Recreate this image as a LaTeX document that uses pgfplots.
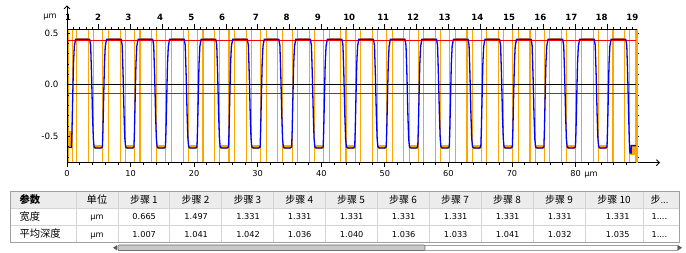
\documentclass[border=0pt]{standalone}
\usepackage{pgfplots}
\usepackage{pgfplotstable}
\pgfplotsset{compat=1.18}
\usepackage{fontspec}
\setmainfont{DejaVu Sans}
\newfontfamily\cjk{Noto Sans CJK SC}
\usetikzlibrary{arrows.meta}
\definecolor{orng}{RGB}{255,165,0}
\definecolor{hdr}{RGB}{236,236,236}
\definecolor{gridc}{RGB}{212,212,212}
\definecolor{bord}{RGB}{160,160,160}
\definecolor{thumb}{RGB}{200,200,200}
\definecolor{thumbd}{RGB}{110,110,110}
\definecolor{arr}{RGB}{90,90,90}

\pgfplotstableread{
x t b
0.2 1 -1
0.87 1 -1
1.52 1 -1
3.39 1 -1
4.20 1 -1
5.64 1 -1
6.52 1 -1
8.35 1 -1
9.16 1 -1
10.60 1 -1
11.48 1 -1
13.31 1 -1
14.12 1 -1
15.56 1 -1
16.44 1 -1
18.27 1 -1
19.08 1 -1
20.52 1 -1
21.40 1 -1
23.23 1 -1
24.04 1 -1
25.48 1 -1
26.36 1 -1
28.19 1 -1
29.01 1 -1
30.45 1 -1
31.33 1 -1
33.16 1 -1
33.97 1 -1
35.41 1 -1
36.29 1 -1
38.12 1 -1
38.93 1 -1
40.37 1 -1
41.25 1 -1
43.08 1 -1
43.89 1 -1
45.33 1 -1
46.21 1 -1
48.04 1 -1
48.85 1 -1
50.29 1 -1
51.17 1 -1
53.00 1 -1
53.81 1 -1
55.25 1 -1
56.13 1 -1
57.96 1 -1
58.77 1 -1
60.21 1 -1
61.09 1 -1
62.92 1 -1
63.73 1 -1
65.17 1 -1
66.05 1 -1
67.88 1 -1
68.69 1 -1
70.13 1 -1
71.01 1 -1
72.84 1 -1
73.65 1 -1
75.09 1 -1
75.97 1 -1
77.80 1 -1
78.62 1 -1
80.06 1 -1
80.94 1 -1
82.77 1 -1
83.58 1 -1
85.02 1 -1
85.90 1 -1
87.73 1 -1
88.54 1 -1
}\vlines

\pgfplotstableread{
x y
1.46 0.44
3.49 0.44
3.5 nan
6.42 0.44
8.45 0.44
8.5 nan
11.38 0.44
13.41 0.44
13.5 nan
16.34 0.44
18.37 0.44
18.5 nan
21.30 0.44
23.33 0.44
23.5 nan
26.26 0.44
28.29 0.44
28.5 nan
31.23 0.44
33.26 0.44
33.5 nan
36.19 0.44
38.22 0.44
38.5 nan
41.15 0.44
43.18 0.44
43.5 nan
46.11 0.44
48.14 0.44
48.5 nan
51.07 0.44
53.10 0.44
53.5 nan
56.03 0.44
58.06 0.44
58.5 nan
60.99 0.44
63.02 0.44
63.5 nan
65.95 0.44
67.98 0.44
68.5 nan
70.91 0.44
72.94 0.44
73.5 nan
75.87 0.44
77.90 0.44
78.5 nan
80.84 0.44
82.87 0.44
83.5 nan
85.80 0.44
87.83 0.44
}\topbox

\pgfplotstableread{
x y
4.20 -0.603
5.54 -0.603
5.6 nan
9.16 -0.603
10.50 -0.603
10.6 nan
14.12 -0.603
15.46 -0.603
15.5 nan
19.08 -0.603
20.42 -0.603
20.5 nan
24.04 -0.603
25.38 -0.603
25.5 nan
29.01 -0.603
30.35 -0.603
30.5 nan
33.97 -0.603
35.31 -0.603
35.5 nan
38.93 -0.603
40.27 -0.603
40.5 nan
43.89 -0.603
45.23 -0.603
45.5 nan
48.85 -0.603
50.19 -0.603
50.5 nan
53.81 -0.603
55.15 -0.603
55.5 nan
58.77 -0.603
60.11 -0.603
60.5 nan
63.73 -0.603
65.07 -0.603
65.5 nan
68.69 -0.603
70.03 -0.603
70.5 nan
73.65 -0.603
74.99 -0.603
75.5 nan
78.62 -0.603
79.96 -0.603
80.5 nan
83.58 -0.603
84.92 -0.603
}\trbox

\pgfplotsset{base/.style={at={(67pt,90.3pt)}, anchor=south west, scale only axis,
  width=570pt, height=133.4pt, xmin=0, xmax=89.67, ymin=-0.755, ymax=0.535,
  tick label style={font=\fontsize{8.2}{9}\selectfont}, tick style={black, line width=0.7pt}}}

\begin{document}
\begin{tikzpicture}[x=1pt,y=1pt]
\path[use as bounding box] (0,0) rectangle (686,253);

\begin{axis}[base, hide axis, unbounded coords=jump]
\addplot[orng, line width=1.1pt, ycomb] table[x=x, y=t] \vlines;
\addplot[orng, line width=1.1pt, ycomb] table[x=x, y=b] \vlines;
\addplot[orng, line width=2.2pt] coordinates {(89.6,-1) (89.6,1)};
\addplot[orng, line width=2.3pt] table[x=x, y=y] \topbox;
\addplot[orng, line width=3.9pt] table[x=x, y=y] \trbox;
\addplot[fill=orng, draw=none] coordinates {(0,-0.45) (0.73,-0.45) (0.73,-0.59) (0,-0.59)};
\addplot[fill=orng, draw=none] coordinates {(88.6,-0.59) (89.67,-0.59) (89.67,-0.68) (88.6,-0.68)};
\addplot[black, line width=0.8pt] coordinates {(0,0) (89.67,0)};
\addplot[red, line width=1pt] coordinates {(0,0.428) (89.67,0.428)};
\addplot[red, line width=1pt] coordinates {(0,-0.082) (89.67,-0.082)};
\addplot[blue, line width=1.3pt] coordinates {
(0.1,-0.603) (0.7,-0.607) (0.78,-0.45) (0.9,-0.12) (1.02,0.2) (1.15,0.37) (1.35,0.438)
(3.56,0.438) (3.72,0.38) (3.87,0.08) (4.02,-0.3) (4.14,-0.52) (4.26,-0.603) (4.51,-0.612) (5.32,-0.612) (5.57,-0.603) (5.65,-0.45) (5.77,-0.12) (5.89,0.2) (6.02,0.37) (6.22,0.438)
(8.52,0.438) (8.68,0.38) (8.83,0.08) (8.98,-0.3) (9.10,-0.52) (9.22,-0.603) (9.47,-0.612) (10.28,-0.612) (10.53,-0.603) (10.61,-0.45) (10.73,-0.12) (10.85,0.2) (10.98,0.37) (11.18,0.438)
(13.48,0.438) (13.64,0.38) (13.79,0.08) (13.94,-0.3) (14.06,-0.52) (14.18,-0.603) (14.43,-0.612) (15.24,-0.612) (15.49,-0.603) (15.57,-0.45) (15.69,-0.12) (15.81,0.2) (15.94,0.37) (16.14,0.438)
(18.44,0.438) (18.60,0.38) (18.75,0.08) (18.90,-0.3) (19.02,-0.52) (19.14,-0.603) (19.39,-0.612) (20.20,-0.612) (20.45,-0.603) (20.53,-0.45) (20.65,-0.12) (20.77,0.2) (20.90,0.37) (21.10,0.438)
(23.40,0.438) (23.56,0.38) (23.71,0.08) (23.86,-0.3) (23.98,-0.52) (24.10,-0.603) (24.35,-0.612) (25.16,-0.612) (25.41,-0.603) (25.49,-0.45) (25.61,-0.12) (25.73,0.2) (25.86,0.37) (26.06,0.438)
(28.37,0.438) (28.53,0.38) (28.68,0.08) (28.83,-0.3) (28.95,-0.52) (29.07,-0.603) (29.32,-0.612) (30.13,-0.612) (30.38,-0.603) (30.46,-0.45) (30.58,-0.12) (30.70,0.2) (30.83,0.37) (31.03,0.438)
(33.33,0.438) (33.49,0.38) (33.64,0.08) (33.79,-0.3) (33.91,-0.52) (34.03,-0.603) (34.28,-0.612) (35.09,-0.612) (35.34,-0.603) (35.42,-0.45) (35.54,-0.12) (35.66,0.2) (35.79,0.37) (35.99,0.438)
(38.29,0.438) (38.45,0.38) (38.60,0.08) (38.75,-0.3) (38.87,-0.52) (38.99,-0.603) (39.24,-0.612) (40.05,-0.612) (40.30,-0.603) (40.38,-0.45) (40.50,-0.12) (40.62,0.2) (40.75,0.37) (40.95,0.438)
(43.25,0.438) (43.41,0.38) (43.56,0.08) (43.71,-0.3) (43.83,-0.52) (43.95,-0.603) (44.20,-0.612) (45.01,-0.612) (45.26,-0.603) (45.34,-0.45) (45.46,-0.12) (45.58,0.2) (45.71,0.37) (45.91,0.438)
(48.21,0.438) (48.37,0.38) (48.52,0.08) (48.67,-0.3) (48.79,-0.52) (48.91,-0.603) (49.16,-0.612) (49.97,-0.612) (50.22,-0.603) (50.30,-0.45) (50.42,-0.12) (50.54,0.2) (50.67,0.37) (50.87,0.438)
(53.17,0.438) (53.33,0.38) (53.48,0.08) (53.63,-0.3) (53.75,-0.52) (53.87,-0.603) (54.12,-0.612) (54.93,-0.612) (55.18,-0.603) (55.26,-0.45) (55.38,-0.12) (55.50,0.2) (55.63,0.37) (55.83,0.438)
(58.13,0.438) (58.29,0.38) (58.44,0.08) (58.59,-0.3) (58.71,-0.52) (58.83,-0.603) (59.08,-0.612) (59.89,-0.612) (60.14,-0.603) (60.22,-0.45) (60.34,-0.12) (60.46,0.2) (60.59,0.37) (60.79,0.438)
(63.09,0.438) (63.25,0.38) (63.40,0.08) (63.55,-0.3) (63.67,-0.52) (63.79,-0.603) (64.04,-0.612) (64.85,-0.612) (65.10,-0.603) (65.18,-0.45) (65.30,-0.12) (65.42,0.2) (65.55,0.37) (65.75,0.438)
(68.05,0.438) (68.21,0.38) (68.36,0.08) (68.51,-0.3) (68.63,-0.52) (68.75,-0.603) (69.00,-0.612) (69.81,-0.612) (70.06,-0.603) (70.14,-0.45) (70.26,-0.12) (70.38,0.2) (70.51,0.37) (70.71,0.438)
(73.01,0.438) (73.17,0.38) (73.32,0.08) (73.47,-0.3) (73.59,-0.52) (73.71,-0.603) (73.96,-0.612) (74.77,-0.612) (75.02,-0.603) (75.10,-0.45) (75.22,-0.12) (75.34,0.2) (75.47,0.37) (75.67,0.438)
(77.98,0.438) (78.14,0.38) (78.29,0.08) (78.44,-0.3) (78.56,-0.52) (78.68,-0.603) (78.93,-0.612) (79.74,-0.612) (79.99,-0.603) (80.07,-0.45) (80.19,-0.12) (80.31,0.2) (80.44,0.37) (80.64,0.438)
(82.94,0.438) (83.10,0.38) (83.25,0.08) (83.40,-0.3) (83.52,-0.52) (83.64,-0.603) (83.89,-0.612) (84.70,-0.612) (84.95,-0.603) (85.03,-0.45) (85.15,-0.12) (85.27,0.2) (85.40,0.37) (85.60,0.438)
(87.90,0.438) (88.06,0.38) (88.21,0.08) (88.36,-0.3) (88.45,-0.52) (88.52,-0.64) (88.57,-0.66) (88.75,-0.66) (88.78,-0.59) (89.67,-0.59)
};
\end{axis}

% bottom x axis
\begin{axis}[base, axis x line=bottom, axis y line=none, tick align=outside,
  xtick={0,10,20,30,40,50,60,70,80},
  xticklabels={0,10,20,30,40,50,60,70,{80\rlap{\hspace{0.45em}µm}}},
  minor xtick={2,4,6,8,12,14,16,18,22,24,26,28,32,34,36,38,42,44,46,48,52,54,56,58,62,64,66,68,72,74,76,78,82,84,86,88},
  major tick length=4pt, minor tick length=2.5pt,
  x axis line style={-{Straight Barb[length=3pt,width=6pt]}, shorten >=-23pt, line width=0.9pt}]
\end{axis}

% left y axis
\begin{axis}[base, axis y line=left, axis x line=none, tick align=inside,
  ytick={-0.5,0,0.5}, yticklabels={-0.5,0.0,0.5},
  minor ytick={-0.7,-0.6,-0.4,-0.3,-0.2,-0.1,0.1,0.2,0.3,0.4},
  major tick length=3pt, minor tick length=2pt,
  yticklabel style={font=\fontsize{8.7}{9}\selectfont, xshift=-5pt},
  y axis line style={-{Straight Barb[length=3pt,width=6pt]}, shorten >=-24pt, line width=0.9pt}]
\end{axis}

% right y axis
\begin{axis}[base, axis y line=right, axis x line=none, tick align=outside,
  ytick={-0.7,-0.6,-0.5,-0.4,-0.3,-0.2,-0.1,0,0.1,0.2,0.3,0.4,0.5}, yticklabels={},
  major tick length=2.2pt,
  y axis line style={-, orng, line width=1.8pt}]
\end{axis}

% top x axis ticks
\begin{axis}[base, axis x line=top, axis y line=none, tick align=outside,
  xtick={0,5,10,15,20,25,30,35,40,45,50,55,60,65,70,75,80,85}, xticklabels={},
  minor xtick={1,2,3,4,6,7,8,9,11,12,13,14,16,17,18,19,21,22,23,24,26,27,28,29,31,32,33,34,36,37,38,39,41,42,43,44,46,47,48,49,51,52,53,54,56,57,58,59,61,62,63,64,66,67,68,69,71,72,73,74,76,77,78,79,81,82,83,84,86,87,88,89},
  major tick length=5pt, minor tick length=2.7pt,
  x axis line style={-, line width=0.9pt}]
\end{axis}

% top step labels
\begin{axis}[base, axis x line=top, axis y line=none,
  xtick={0.16,4.9,9.65,14.65,19.55,24.4,29.7,34.55,39.45,44.4,49.75,54.45,59.4,64.55,69.55,74.45,79.35,84.1,88.95},
  xticklabels={1,2,3,4,5,6,7,8,9,10,11,12,13,14,15,16,17,18,19},
  major tick length=0pt, x axis line style={draw=none},
  xticklabel style={font=\bfseries\fontsize{8.6}{9}\selectfont, yshift=5pt}]
\end{axis}

\node[font=\fontsize{8.2}{9}\selectfont] at (50,235.5) {µm};

% table
\fill[hdr] (10,44.7) rectangle (679,61.3);
\draw[gridc, line width=0.7pt] (10,44.7) -- (679,44.7) (10,27.3) -- (679,27.3);
\foreach \xx in {76,118.3,169.5,221.5,273.3,325,377,429,481,533,585,643}
  \draw[gridc, line width=0.7pt] (\xx,10.3) -- (\xx,61.3);
\draw[bord, line width=0.8pt] (10,10.3) rectangle (679,61.3);

\node[anchor=base west, font=\cjk\bfseries\fontsize{10.3}{11}\selectfont] at (16,49.4) {参数};
\node[anchor=base, font=\cjk\fontsize{10.3}{11}\selectfont] at (97,49.4) {单位};
\foreach \cx/\t in {143.9/1,195.5/2,247.4/3,299.2/4,351/5,403/6,455/7,507/8,559/9,614/10}
  \node[anchor=base, font=\cjk\fontsize{10}{11}\selectfont] at (\cx,49.4) {步骤 \t};
\node[anchor=base west, font=\fontsize{8.2}{9}\selectfont] at (647,49.4) {{\cjk\fontsize{10}{11}\selectfont 步}...};

\node[anchor=base west, font=\cjk\fontsize{10.3}{11}\selectfont] at (16,32.4) {宽度};
\node[anchor=base west, font=\cjk\fontsize{10.3}{11}\selectfont] at (16,15.2) {平均深度};
\node[anchor=base, font=\fontsize{8.2}{9}\selectfont] at (97,33) {µm};
\node[anchor=base, font=\fontsize{8.2}{9}\selectfont] at (97,15.8) {µm};

\foreach \rx/\v in {159.5/0.665,211.5/1.497,263.3/1.331,315/1.331,367/1.331,419/1.331,471/1.331,523/1.331,575/1.331,633/1.331}
  \node[anchor=base east, font=\fontsize{8.2}{9}\selectfont] at (\rx,33) {\v};
\foreach \rx/\v in {159.5/1.007,211.5/1.041,263.3/1.042,315/1.036,367/1.040,419/1.036,471/1.033,523/1.041,575/1.032,633/1.035}
  \node[anchor=base east, font=\fontsize{8.2}{9}\selectfont] at (\rx,15.8) {\v};
\node[anchor=base west, font=\fontsize{8.2}{9}\selectfont] at (648,33) {1....};
\node[anchor=base west, font=\fontsize{8.2}{9}\selectfont] at (648,15.8) {1....};

% scrollbar
\draw[bord, fill=white, line width=0.6pt] (118,2.5) rectangle (677,8);
\draw[thumbd, fill=thumb, line width=0.6pt, rounded corners=1pt] (118,2.5) rectangle (425,8);
\fill[arr] (113,5.25) -- (117,7.9) -- (117,2.6) -- cycle;
\fill[arr] (682,5.25) -- (678,7.9) -- (678,2.6) -- cycle;
\end{tikzpicture}
\end{document}
